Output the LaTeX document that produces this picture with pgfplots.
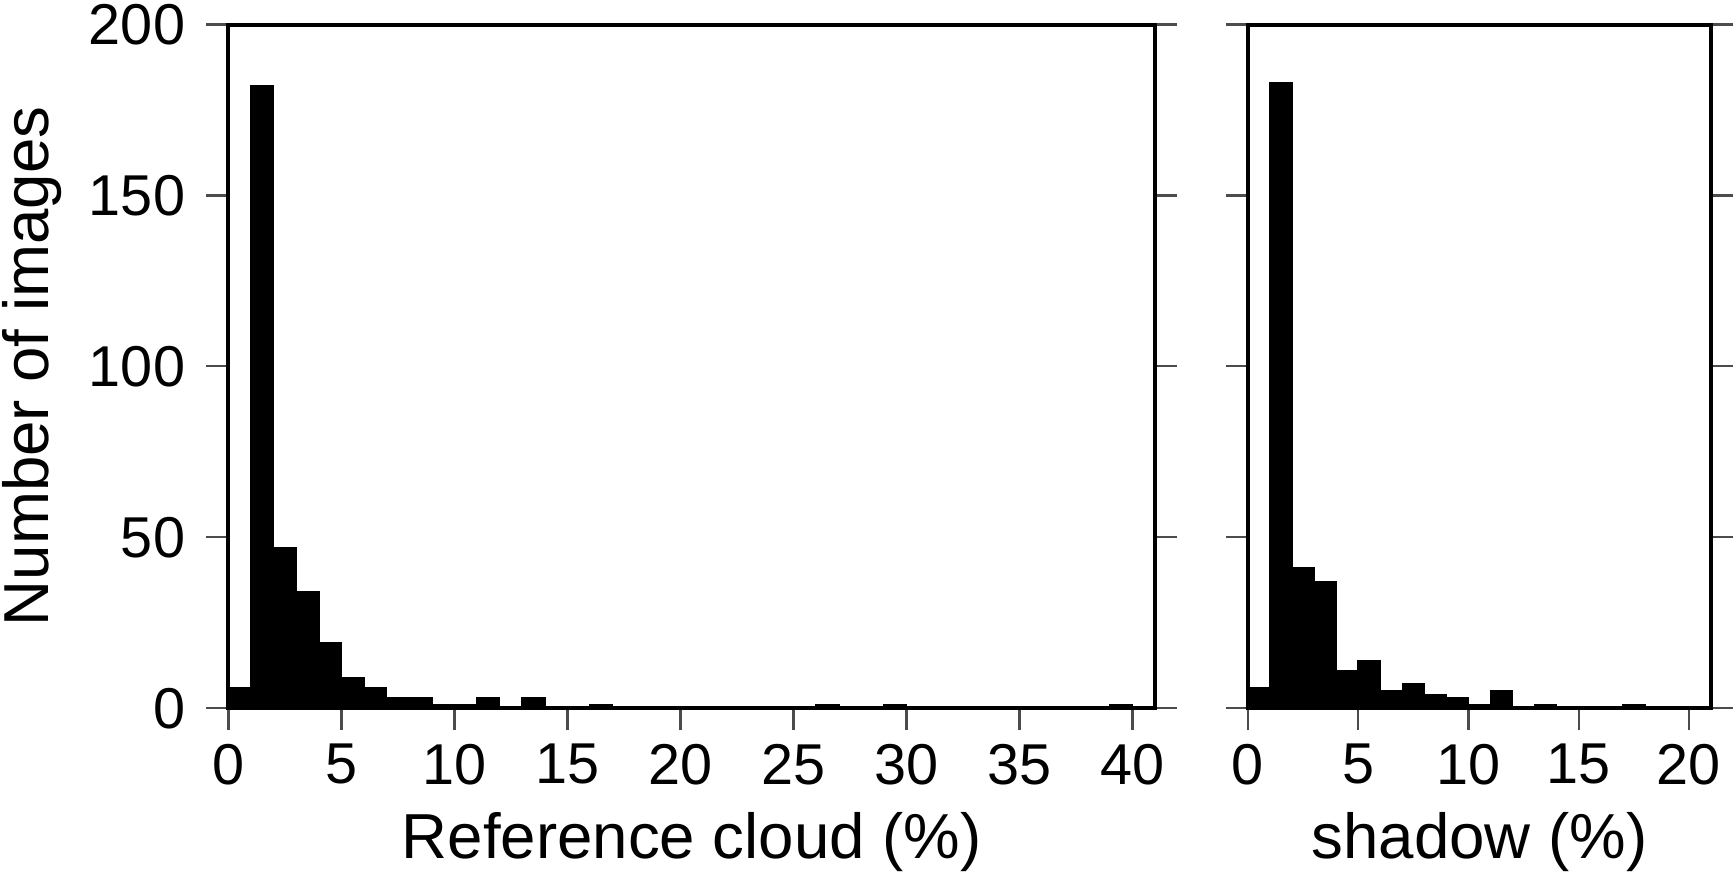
\documentclass[border=0pt]{standalone}
\usepackage{fontspec}
\setmainfont{Liberation Sans}
\usepackage{pgfplots}
\pgfplotsset{compat=1.18}

% cloud cover histogram (bin width 1 %)
\pgfplotstableread{
x y
0 6
1 182
2 47
3 34
4 19
5 9
6 6
7 3
8 3
9 1
10 1
11 3
12 0
13 3
14 0
15 0
16 1
17 0
18 0
19 0
20 0
21 0
22 0
23 0
24 0
25 0
26 1
27 0
28 0
29 1
30 0
31 0
32 0
33 0
34 0
35 0
36 0
37 0
38 0
39 1
40 0
41 0
}\cloudtab

% shadow histogram
\pgfplotstableread{
x y
0 6
1 183
2 41
3 37
4 11
5 14
6 5
7 7
8 4
9 3
10 1
11 5
12 0
13 1
14 0
15 0
16 0
17 1
18 0
19 0
20 0
21 0
}\shadowtab

\begin{document}
\begin{tikzpicture}
\pgfplotsset{
  hist/.style={
    scale only axis,
    height=170.9pt,
    ymin=0, ymax=200,
    ytick={0,50,100,150,200},
    axis line style={line width=1pt},
    tick style={line width=0.55pt, color=black!70},
    major tick length=5.5pt,
    tick align=outside,
    xtick pos=bottom,
    ytick pos=both,
    axis on top,
    /pgf/number format/assume math mode=true,
    tick label style={font=\fontsize{14.4}{17}\selectfont},
    yticklabel style={xshift=-1.8pt},
    label style={font=\fontsize{15.9}{19}\selectfont},
  },
}
\path[use as bounding box] (0,0) rectangle (434pt,218.75pt);

\begin{axis}[hist,
    at={(57.1pt,41.7pt)}, anchor=south west,
    width=231.7pt,
    xmin=0, xmax=41,
    xtick={0,5,...,40},
    xlabel={Reference cloud (\%)},
    ylabel={Number of images},
]
\addplot[ybar interval, fill=black, draw=black, line width=0.4pt] table[x=x,y=y] {\cloudtab};
\end{axis}

\begin{axis}[hist,
    at={(312pt,41.7pt)}, anchor=south west,
    width=115.75pt,
    xmin=0, xmax=21,
    xtick={0,5,...,20},
    yticklabels={},
    xlabel={shadow (\%)},
]
\addplot[ybar interval, fill=black, draw=black, line width=0.4pt] table[x=x,y=y] {\shadowtab};
\end{axis}
\end{tikzpicture}
\end{document}
